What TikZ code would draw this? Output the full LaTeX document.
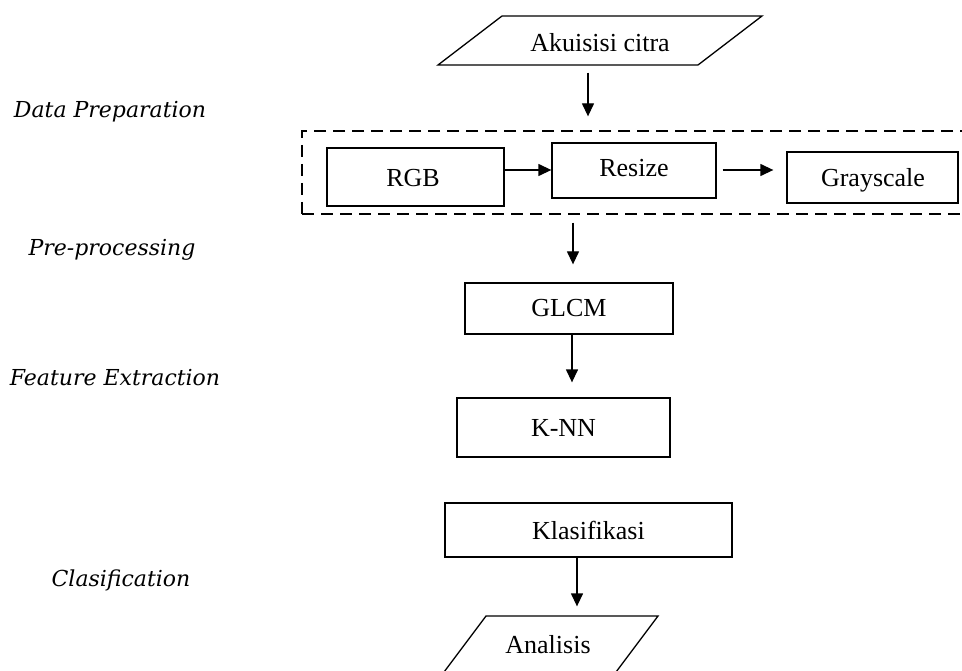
\documentclass[tikz,border=0pt]{standalone}
\usepackage{fontspec}
\setmainfont{Liberation Serif}
\newfontfamily\labelfont{DejaVu Serif}
\usetikzlibrary{arrows.meta}
\begin{document}
\begin{tikzpicture}[x=1pt,y=-1pt,
  line width=1.3pt,
  box/.style={draw, rectangle, inner sep=0pt, font=\fontsize{26}{30}\selectfont},
  txt/.style={inner sep=0pt, font=\fontsize{26}{30}\selectfont},
  phase/.style={inner sep=0pt, font=\labelfont\itshape\fontsize{22}{26}\selectfont},
  arr/.style={-{Triangle[length=13pt,width=12pt]}, line width=1.3pt},
  dashbox/.style={draw, dash pattern=on 12pt off 7pt, line width=1.3pt}
]
\useasboundingbox (0,0) rectangle (962,671);
\fill[white] (0,0) rectangle (962,671);

% Phase labels
\node[phase] (lDP) at (110,112) {Data Preparation};
\node[phase] (lPP) at (112,250) {Pre-processing};
\node[phase] (lFE) at (115,378) {Feature Extraction};
\node[phase] (lCL) at (121,580) {Clasification};

% Akuisisi citra parallelogram
\draw (502,16) -- (762,16) -- (698,65) -- (438,65) -- cycle;
\node[txt, minimum width=260pt, minimum height=49pt] (akuisisi) at (600,40.5) {};
\node[txt] (akuisisiT) at (600,43) {Akuisisi citra};

% Dashed group
\node[dashbox, minimum width=664pt, minimum height=83pt, inner sep=0pt] (prep) at (634,172.5) {};

% Boxes
\node[box, minimum width=177pt, minimum height=58pt] (rgb) at (415.5,177) {};
\node[txt] at (413,178) {RGB};
\node[box, minimum width=164pt, minimum height=55pt] (resize) at (634,170.5) {};
\node[txt] at (634,168) {Resize};
\node[box, minimum width=171pt, minimum height=51pt] (gray) at (872.5,177.5) {};
\node[txt] at (873,180) {Grayscale};
\node[box, minimum width=208pt, minimum height=51pt] (glcm) at (569,308.5) {GLCM};
\node[box, minimum width=213pt, minimum height=59pt] (knn) at (563.5,427.5) {K-NN};
\node[box, minimum width=287pt, minimum height=54pt] (klas) at (588.5,530) {Klasifikasi};

% Analisis parallelogram
\draw (486,616) -- (658,616) -- (610,680) -- (438,680) -- cycle;
\node[txt, minimum width=172pt, minimum height=55pt] (analisis) at (548,643.5) {};
\node[txt] at (548,645) {Analisis};

% Connector x positions
\coordinate (c1) at (588,0);
\coordinate (c2) at (573,0);
\coordinate (c3) at (572,0);
\coordinate (c4) at (577,0);
\coordinate (r1) at (0,170);

% Connectors (yshift is in page direction: negative = down)
\draw[arr] ([yshift=-7pt]akuisisi.south -| c1) -- ([yshift=14pt]prep.north -| c1);
\draw[arr] (rgb.east |- r1) -- (resize.west |- r1);
\draw[arr] ([xshift=6pt]resize.east |- r1) -- ([xshift=-13pt]gray.west |- r1);
\draw[arr] ([yshift=-8pt]prep.south -| c2) -- ([yshift=18pt]glcm.north -| c2);
\draw[arr] (glcm.south -| c3) -- ([yshift=15pt]knn.north -| c3);
\draw[arr] (klas.south -| c4) -- ([yshift=9pt]analisis.north -| c4);
\end{tikzpicture}
\end{document}
